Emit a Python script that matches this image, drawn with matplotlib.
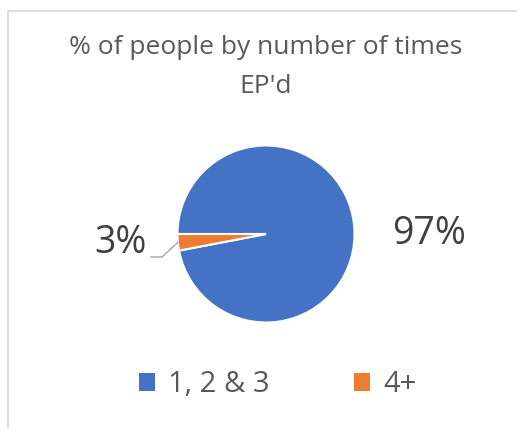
import matplotlib.pyplot as plt
from matplotlib.patches import Patch, Rectangle
import numpy as np

# data
labels = ['1, 2 & 3', '4+']
values = [97, 3]
colors = ['#4472C4', '#ED7D31']
title = "% of people by number of times\nEP'd"

plt.rcParams['font.family'] = ['Open Sans', 'DejaVu Sans']

W, H = 517, 428
fig = plt.figure(figsize=(W / 100, H / 100), dpi=100)

# light chart border (left + top, rest runs off the picture)
fig.patches.append(Rectangle((8 / W, -0.1), 1.2, 1 - 11 / H + 0.1,
                             transform=fig.transFigure, fill=False,
                             edgecolor='#D9D9D9', linewidth=1.2))

# pie axes: centre (266, 234) px, radius 88.5 px
cx, cy, r = 266, 234, 88.5
ax = fig.add_axes([(cx - r) / W, (H - cy - r) / H, 2 * r / W, 2 * r / H])
wedges, _ = ax.pie(values, colors=colors, startangle=180, counterclock=False,
                   radius=1, wedgeprops=dict(edgecolor='white', linewidth=1.5))
ax.set_xlim(-1, 1)
ax.set_ylim(-1, 1)
ax.set_aspect('auto')
ax.axis('off')

# data labels
tot = sum(values)
ax.text(1.42, 0.0, f'{values[0] / tot:.0%}', ha='left', va='center',
        fontsize=27, color='#404040')

# small slice label with leader line
w = wedges[1]
mid = np.deg2rad((w.theta1 + w.theta2) / 2)
p0 = (np.cos(mid), np.sin(mid))
ax.plot([p0[0], -1.175, -1.30], [p0[1], -0.26, -0.26], color='#A6A6A6',
        linewidth=1, clip_on=False)
ax.text(-1.35, -0.105, f'{values[1] / tot:.0%}', ha='right', va='center',
        fontsize=27, color='#404040')

# title
fig.text(266 / W, 1 - 67 / H, title, ha='center', va='center',
         fontsize=19, color='#595959', linespacing=1.78)

# legend
handles = [Patch(facecolor=c, edgecolor='none') for c in colors]
fig.legend(handles, labels, loc='center', ncol=2, frameon=False,
           bbox_to_anchor=(278 / W, 1 - 385 / H), fontsize=21,
           labelcolor='#595959', handlelength=0.55, handleheight=0.55,
           handletextpad=0.45, columnspacing=2.9)

fig.savefig('out.png', dpi=100)
